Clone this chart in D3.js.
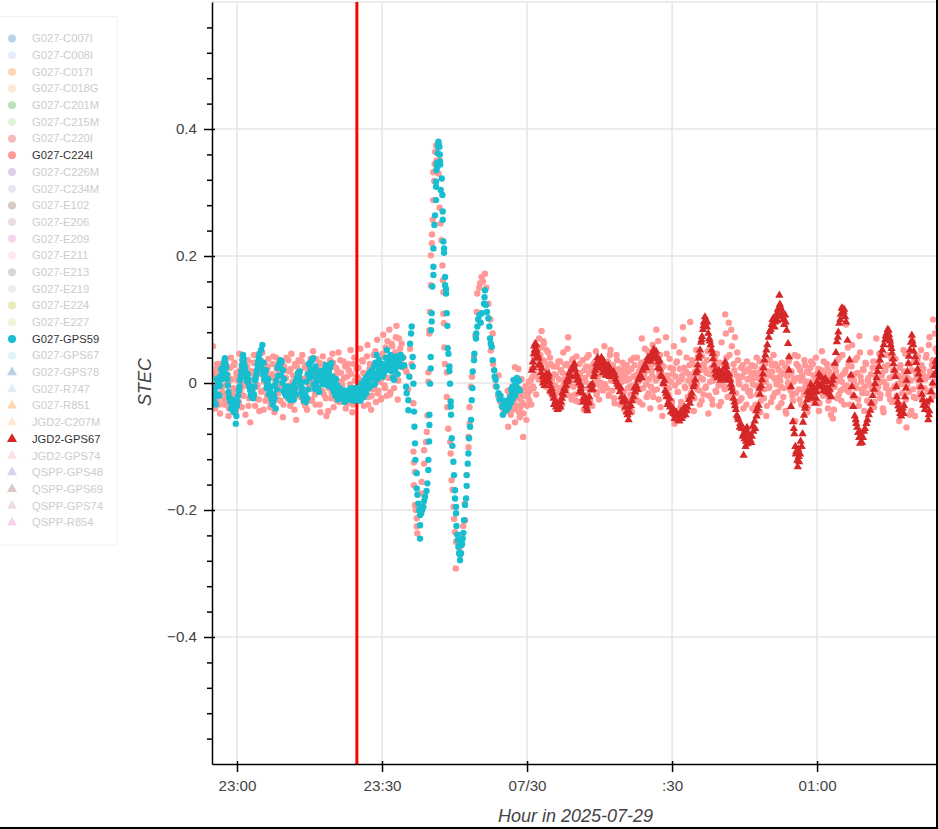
<!DOCTYPE html>
<html><head><meta charset="utf-8">
<script src="https://cdn.jsdelivr.net/npm/d3@7"></script>
<style>
html,body{margin:0;padding:0;background:#fff;overflow:hidden}
text{font-family:"Liberation Sans",Arial,sans-serif}
</style></head><body>
<svg id="chart" width="938" height="829"></svg>
<script>
// STEC values are in thousandths; times in minutes after 23:00
const legendNames = ["G027-C007I","G027-C008I","G027-C017I","G027-C018G","G027-C201M","G027-C215M","G027-C220I","G027-C224I","G027-C226M","G027-C234M","G027-E102","G027-E206","G027-E209","G027-E211","G027-E213","G027-E219","G027-E224","G027-E227","G027-GPS59","G027-GPS67","G027-GPS78","G027-R747","G027-R851","JGD2-C207M","JGD2-GPS67","JGD2-GPS74","QSPP-GPS48","QSPP-GPS69","QSPP-GPS74","QSPP-R854"];
const legendActive = ["G027-C224I","G027-GPS59","JGD2-GPS67"];
const legendTriangles = ["G027-GPS78","G027-R747","G027-R851","JGD2-C207M","JGD2-GPS67","JGD2-GPS74","QSPP-GPS48","QSPP-GPS69","QSPP-GPS74","QSPP-R854"];
const palette = ["#1f77b4","#aec7e8","#ff7f0e","#ffbb78","#2ca02c","#98df8a","#d62728","#ff9896","#9467bd","#c5b0d5","#8c564b","#c49c94","#e377c2","#f7b6d2","#7f7f7f","#c7c7c7","#bcbd22","#dbdb8d","#17becf","#9edae5","#1f77b4","#aec7e8","#ff7f0e","#ffbb78","#d62728","#ff9896","#9467bd","#8c564b","#c49c94","#e377c2"];

const xTickTimes = [0,30,60,90,120];
const xTickLabels = ["23:00","23:30","07/30",":30","01:00"];
const yMajorTicks = [-0.4,-0.2,0,0.2,0.4];
const yMinorTicks = [-0.56,-0.52,-0.48,-0.44,-0.36,-0.32,-0.28,-0.24,-0.16,-0.12,-0.08,-0.04,0.04,0.08,0.12,0.16,0.24,0.28,0.32,0.36,0.44,0.48,0.52,0.56];
const eventTime = 24.8;

// Samples every quarter minute from -5
const cyanQuiet = [-8,-28,-20,6,-18,8,-4,22,14,28,39,24,6,-14,-26,-40,-34,-44,-28,-64,-36,-20,-6,10,28,44,30,18,6,14,-4,-12,-22,-8,-18,4,14,28,40,36,52,60,32,12,20,-2,6,-14,-6,-22,-30,-24,-40,-10,12,30,36,34,20,6,-6,-18,-10,-24,-27,-22,-16,-26,-8,-18,4,14,18,2,-8,-18,-26,-30,-24,-10,8,22,36,39,18,26,4,-8,-14,6,18,-2,14,22,8,-4,16,24,31,10,2,-6,6,-4,-14,-8,-18,-22,-16,-30,-20,-12,-26,-18,-8,-22,-28,-14,-24,-10,-27,-18,-28,-14,-4,-22,-10,-16,2,-8,6,-4,8,10,-2,14,6,18,10,24,14,30,22,40,52,36,28,44,18,8,5,22,30,14,34,39,26];
// Samples every quarter minute from -4.875
const cyanQuiet2 = [-16,-12,-34,-6,2,-20,12,6,20,34,30,14,-4,-22,-30,-26,-38,-46,-42,-52,-30,-12,4,18,36,38,24,10,2,6,-8,-18,-14,-24,-6,8,20,34,46,30,22,14,6,10,-8,-2,-18,-14,-26,-34,-18,-4,4,24,28,26,12,0,-12,-16,-20,-6,-22,-12,-20,-14,-4,-12,2,8,16,10,-4,-14,-22,-28,-18,2,14,30,32,10,14,-2,-10,-4,10,8,18,14,2,4,20,28,18,6,-4,2,-8,-10,-14,-20,-10,-26,-16,-20,-14,-24,-12,-18,-22,-20,-16,-24,-12,-20,-24,-8,-12,-18,-8,-14,-4,0,-6,4,8,0,12,16,8,20,16,26,32,44,30,36,24,12,10,14,26,20,24,36,28,30,38,24,34,42,30,36,28,44];

const cyanActive = [[34.3,40],[34.6,28],[34.97,-6],[35.1,-16],[35.45,-27],[35.45,-43],[35.66,10],[35.8,62],[36,78],[36.14,89],[36.35,41],[36.35,26],[36.49,-1],[36.63,-45],[36.7,-69],[36.83,-95],[36.9,-121],[37.18,-142],[37.18,-166],[37.32,-176],[37.5,-190],[37.7,-200],[37.87,-208],[37.87,-224],[37.87,-245],[38.1,-205],[38.3,-200],[38.56,-195],[38.7,-186],[38.9,-179],[39.2,-170],[39.39,-158],[39.59,-137],[39.59,-121],[39.73,-92],[39.8,-66],[39.8,-50],[39.94,-1],[40.07,23],[40.07,41],[40.14,83],[40.28,97],[40.28,110],[40.42,152],[40.63,170],[40.63,183],[40.63,212],[40.83,249],[40.97,264],[41.18,288],[41.18,309],[41.18,317],[41.25,335],[41.32,346],[41.4,340],[41.52,362],[41.6,372],[41.66,380],[41.72,376],[41.87,372],[41.95,360],[42,349],[42.05,344],[42.35,322],[42.14,304],[42.49,296],[42.56,270],[42.56,257],[42.7,223],[42.83,205],[42.83,212],[43.04,167],[43.04,154],[43.25,141],[43.25,148],[43.39,110],[43.52,90],[43.59,55],[43.73,46],[43.94,26],[43.94,19],[44.07,-1],[44.21,-29],[44.21,-37],[44.28,-50],[44.42,-87],[44.56,-99],[44.76,-124],[44.9,-145],[45.11,-169],[45.11,-182],[45.32,-195],[45.32,-205],[45.4,-225],[45.59,-239],[45.7,-248],[45.8,-258],[45.95,-268],[46.14,-279],[46.14,-270],[46.35,-268],[46.45,-255],[46.56,-253],[46.7,-245],[46.83,-236],[46.97,-216],[47.18,-192],[47.39,-182],[47.52,-162],[47.52,-145],[47.73,-127],[47.87,-111],[48,-87],[48.21,-69],[48.42,-58],[48.56,-27],[48.7,-8],[48.76,18],[49.04,36],[49.11,46],[49.45,70],[49.5,78],[49.73,89],[49.9,100],[50.14,107],[50.63,110],[50.4,95],[51.1,125],[51.3,146],[51.2,135],[51.5,123],[51.7,112],[52,102],[52.2,89],[52.35,70],[52.5,62],[52.7,57],[52.9,36],[53.2,20],[53.3,10],[53.5,5],[53.7,-6],[54.1,-16],[54.3,-26],[54.5,-20],[54.8,-37],[55,-50],[55.2,-28],[55.5,-42],[55.8,-43],[56,-30],[56.2,-38],[56.5,-22],[56.7,-10],[57,-25],[57.2,5],[57.4,-15],[57.6,0],[57.9,8],[58.1,-8],[58.3,4],[58.5,-12],[55.4,-34],[55.9,-36],[56.3,-26],[56.6,-32],[56.9,-14],[57.1,-6],[57.5,-20],[57.8,-8],[58,2]];

// Samples every quarter minute from -5
const pinkQuiet = [58,-12,-40,22,-28,8,-48,30,-6,18,-34,-18,26,-52,4,40,-22,-8,32,-44,12,-30,46,-16,-38,-2,24,-50,10,36,-24,-62,16,-10,44,-36,20,-4,-26,30,-14,48,-42,6,28,-20,38,-8,-32,14,42,-46,0,22,-16,34,-28,10,-54,26,-6,40,-24,18,-36,46,2,-12,30,-58,12,36,-20,-4,44,-30,24,8,-42,16,-10,38,-26,50,-2,-34,20,-14,32,-46,6,42,-18,28,-52,12,-8,36,-24,46,-38,4,24,-12,48,-30,16,-4,34,-20,-40,10,30,-26,52,-8,-34,40,-14,22,-28,6,54,-18,34,-36,14,-6,60,-22,30,-42,-10,44,26,-30,68,-12,40,-26,8,76,-4,56,-20,36,84,-14,62,24,-8,48,90,-26,70,54,30];
// Samples every quarter minute from -4.875
const pinkQuiet2 = [-22,14,-6,30,2,-34,18,-14,8,-26,36,-2,12,-40,24,6,-18,28,-10,16,4,-30,20,-8,38,-20,10,-4,26,-36,0,18,-14,32,8,-24,-6,22,-44,14,34,-12,2,-28,16,24,-6,-38,10,30,-18,6,40,-26,-2,14,-10,28,-34,20,8,-16,36,-4,22,-30,12,-42,2,26,-8,18,-22,34,6,-14,-36,28,10,-2,20,-28,4,14,-18,38,-8,24,-34,8,-12,30,0,-24,16,-44,22,6,-16,32,-4,12,-28,18,-10,36,2,-22,8,26,-14,-32,20,-2,14,-46,30,4,-18,10,24,-8,-26,36,16,-12,-2,42,-34,22,6,-20,28,-6,50,12,-16,34,2,-24,46,18,-8,30,66,8,-18,40,58,22,12,72,34,4,44,26];

const pinkActive = [[34.07,62],[34.4,40],[34.8,22],[35.1,17],[35.4,-10],[35.8,54],[36.1,30],[36.5,-32],[36.5,-108],[36.6,-125],[36.8,-140],[36.6,-161],[36.8,-192],[37,-200],[37.2,-213],[37.2,-226],[37.3,-237],[37.7,-195],[38.2,-174],[38.2,-156],[38.7,-127],[38.7,-106],[39.1,-93],[39.25,-77],[39.4,-51],[39.6,2],[39.6,17],[39.8,78],[39.8,83],[39.9,112],[40.1,154],[40.1,201],[40.3,220],[40.35,234],[40.5,257],[40.6,288],[40.8,318],[40.6,332],[40.9,345],[41,364],[41.2,374],[41.3,350],[41.9,351],[41.7,330],[41.9,276],[42.1,251],[42.3,225],[42.5,185],[42.6,162],[42.7,143],[42.7,109],[42.8,94],[42.9,56],[43,30],[43.4,17],[43.4,-22],[43.5,-38],[43.7,-72],[44.1,-93],[44.2,-111],[44.4,-153],[44.6,-168],[44.8,-195],[44.9,-214],[45.1,-235],[45.25,-292],[45.3,-250],[45.6,-250],[46,-260],[46.5,-240],[46.8,-225],[47.2,-216],[47.1,-190],[47.5,-145],[47.9,-101],[47.9,-85],[48.1,-64],[48.1,-38],[48.4,-6],[48.6,10],[49,41],[49.3,75],[49.6,112],[49.7,141],[50.1,150],[50.3,157],[50.6,167],[50.9,160],[51.3,172],[51.6,150],[52,125],[52.4,100],[52.9,78],[52.5,51],[53,30],[53.5,-5],[54,-20],[54.1,12],[54.5,-30],[55,-40],[55.5,-45],[57.5,25],[58.2,22],[56.1,-69],[59.2,-85],[60.3,-9],[58.6,-38]];

// Samples every quarter minute from 56
const pinkLate = [-12,-38,-25,-44,-8,-30,-62,-18,-42,-22,-54,-10,-34,-48,-20,-5,-36,-15,-28,4,22,-6,40,14,58,30,70,44,82,36,62,18,52,28,-4,40,8,-12,26,-20,12,-28,34,-8,20,-34,48,6,-16,30,72,-2,24,-26,38,10,-18,42,4,-30,16,-10,36,-42,8,26,-20,44,-6,18,-36,30,2,50,-14,24,-4,14,38,-12,58,20,-8,34,-18,52,6,28,-24,12,44,-2,22,-34,10,32,-14,26,4,-28,18,-6,36,-46,10,28,-16,40,2,-30,24,70,-8,14,34,-22,50,6,-40,20,60,-12,30,84,8,-26,44,16,-52,26,-4,72,12,-18,38,2,-30,22,-64,10,34,-14,48,-38,6,88,24,-8,40,-22,14,96,-2,30,-44,18,52,-10,28,-34,8,42,-18,22,-6,36,-48,14,58,-26,4,30,-12,46,20,-36,10,64,-4,26,108,40,-22,95,12,84,-8,30,72,-16,48,4,-28,24,10,-40,18,-6,34,-14,6,-20,28,-2,16,-34,40,8,-12,-46,22,2,-24,30,-52,12,-8,36,-30,18,44,-16,4,26,-38,10,-6,32,-22,14,-44,24,0,38,-12,18,-28,6,-60,30,42,-10,20,-34,8,-18,28,2,-46,16,-4,34,-24,12,-8,40,-14,22,-32,6,50,-20,14,-6,30,-40,18,-12,6,-56,-42,24,2,36,-18,10,-28,44,-8,16,92,-12,28,-34,6,60,-20,14,-4,40,-26,74,10,-10,22,-44,32,-16,4,-30,48,-6,24,-38,12,70,-14,34,-24,2,16,-46,26,-8,44,-18,8,58,-30,20,-6,38,-20,12,-60,28,-2,-34,18,46,-70,8,-14,30,-44,66,-22,-52,14,36,4,-16,52,-28,22,-8,40,-36,10,72,-12,28,100,-20,54,6,88];
// Samples every quarter minute from 56.125
const pinkLate2 = [-30,-16,-50,-6,-40,-24,-2,-36,-14,-46,-26,6,-32,-18,-8,-58,-22,2,-12,-34,10,-8,28,-18,46,6,24,56,16,66,34,-6,20,48,-14,30,4,-22,14,-4,26,-14,6,34,-24,16,-2,28,-10,54,12,-20,4,36,-6,22,-28,14,-2,30,-12,8,-24,20,2,40,-8,14,-30,26,-4,10,34,-18,6,-26,22,0,-10,16,-2,30,12,-20,44,4,-12,24,-32,8,36,-6,16,-24,2,18,-42,10,28,-8,6,-18,22,-4,40,12,-26,2,18,-10,32,-34,8,54,-2,20,-16,26,-6,12,-22,38,4,-10,66,16,-38,28,-2,10,-20,46,6,-8,24,-28,14,58,-4,32,-14,2,22,-30,12,68,-6,18,-42,4,28,-16,36,8,-24,14,-2,42,-12,20,-28,6,30,-8,16,50,-20,2,24,-34,10,38,-14,20,-4,32,-30,8,16,-10,78,26,-6,44,4,58,-16,20,-32,12,36,-2,10,-24,28,-8,18,-34,6,22,-12,14,-40,8,26,-4,-18,16,34,-28,6,24,-10,2,-36,18,-6,12,28,-22,8,30,-2,-14,20,4,-32,16,-8,26,-48,10,34,-6,14,-20,2,44,-16,8,26,-26,4,12,-10,36,-4,18,-38,2,24,-12,30,-30,6,-2,16,-44,10,20,-8,34,-16,4,22,-28,12,-50,-2,28,-6,18,-24,8,40,-12,2,14,-34,20,-4,56,-14,10,26,-22,4,36,-8,16,-36,48,2,-16,20,-6,30,-28,8,-2,14,-10,34,-30,24,6,-6,46,-18,12,-40,2,20,-4,28,-12,-26,38,10,-8,16,-30,-2,-38,24,6,-16,52,12,-26,-4,30,-50,4,20,-10,34,-24,8,42,-6,-20,28,14,-32,6,44,-14,60,18,-24,36,-4,78,12,48];

const redPairs = [[61,20],[61.2,33],[61.4,46],[61.5,58],[61.7,62],[61.8,50],[62,52],[62.2,44],[62.4,39],[62.6,30],[62.8,28],[63,23],[63.2,10],[63.4,5],[63.6,-4],[63.8,2],[64,14],[64.2,8],[64.4,10],[64.6,2],[64.8,-4],[65.1,-9],[65.3,-18],[65.5,-24],[65.8,-32],[66,-38],[66.2,-36],[66.5,-40],[66.7,-36],[67,-30],[67.2,-24],[67.5,-19],[67.8,-12],[68.1,-4],[68.3,2],[68.6,5],[68.9,14],[69.2,20],[69.6,28],[69.9,22],[70.2,14],[70.6,7],[70.8,0],[71.1,-9],[71.4,-16],[71.7,-24],[71.9,-28],[72.2,-36],[72.4,-40],[72.6,-32],[72.9,-22],[73.2,-11],[73.5,-2],[73.8,10],[74.1,20],[74.3,30],[74.6,40],[74.9,36],[75.2,30],[75.5,31],[75.8,22],[76.1,26],[76.4,20],[76.6,24],[76.9,18],[77.2,22],[77.6,14],[78.2,12],[78.5,2],[78.9,-6],[79.2,-14],[79.6,-22],[80,-30],[80.3,-38],[80.6,-46],[81,-58],[81.2,-46],[81.5,-36],[82,-22],[82.3,-14],[82.6,-4],[83,5],[83.4,12],[83.9,20],[84.4,28],[84.8,34],[85.3,40],[85.8,46],[86.2,53],[86.5,46],[86.9,40],[87.2,33],[87.5,22],[87.9,10],[88.2,-1],[88.6,-12],[88.9,-22],[89.25,-30],[89.6,-38],[90,-44],[90.3,-48],[90.6,-50],[91,-54],[91.3,-58],[91.6,-50],[92,-56],[92.4,-43],[92.8,-50],[93.2,-38],[93.7,-32],[94.1,-16],[94.4,-6],[94.8,5],[95,16],[95.3,28],[95.5,39],[95.8,52],[96,64],[96.2,73],[96.4,84],[96.6,96],[96.8,104],[97,98],[97.2,88],[97.5,78],[97.8,66],[98.2,52],[98.5,38],[98.9,20],[99.2,12],[99.5,18],[99.9,10],[100.2,6],[100.5,14],[100.8,24],[101,33],[101.3,18],[101.6,10],[102,5],[102.3,-8],[102.7,-24],[103,-36],[103.4,-51],[103.7,-58],[104.1,-64],[104.4,-72],[104.8,-80],[105.1,-74],[105.4,-82],[105.7,-78],[106,-92],[106.2,-90],[105.2,-100],[104.8,-114],[105.6,-96],[106.5,-84],[106.8,-76],[107.2,-72],[107.5,-52],[107.9,-35],[108.2,-18],[108.6,5],[108.9,24],[109.3,44],[109.7,60],[110.2,81],[110.6,92],[111,102],[111.3,96],[111.6,108],[111.9,116],[112.2,138],[112.3,124],[112.4,120],[112.7,110],[113,100],[113.4,107],[113.7,83],[114,62],[114.2,41],[114.2,20],[114.6,-6],[114.6,-37],[115,-61],[115.3,-80],[115.5,-100],[115.7,-108],[115.9,-122],[116,-132],[116.2,-116],[116.5,-112],[116.8,-100],[117,-80],[117.3,-51],[117.6,-36],[117.9,-27],[118.2,-20],[118.5,-14],[118.9,-6],[119.2,-16],[119.6,-32],[119.9,-14],[120.2,-4],[120.6,10],[120.9,-2],[121.3,-12],[121.7,7],[122,-8],[122.4,-16],[122.7,-19],[123,-2],[123.4,10],[123.7,31],[124.1,65],[124.4,80],[124.6,94],[124.9,108],[125.3,117],[125.6,116],[126,96],[126.3,67],[126.7,36],[127.2,-6],[127.5,-37],[127.8,-52],[128.1,-64],[128.5,-78],[128.9,-95],[129.2,-84],[129.5,-86],[129.9,-72],[130.4,-58],[131,-43],[131.5,-20],[132,-1],[132.5,18],[133,36],[133.5,52],[134.1,68],[134.4,78],[134.8,83],[135,70],[135.2,60],[135.5,47],[135.8,30],[136.2,10],[136.5,-22],[136.8,-36],[137.2,-48],[137.5,-44],[137.9,-48],[138.2,-22],[138.5,4],[138.9,31],[139.2,52],[139.6,75],[139.9,60],[140.3,41],[140.8,22],[141.3,5],[141.7,-18],[142,-35],[142.5,-36],[143,-58],[143.2,-44],[143.4,-27],[143.9,0],[144.4,26],[144.7,18]];
const redPairs2 = [[61.3,24],[61.6,52],[61.9,60],[62.1,40],[62.5,28],[62.9,16],[63.3,0],[63.7,8],[64.1,2],[64.5,14],[64.9,-12],[65.2,-14],[65.6,-34],[65.9,-28],[66.3,-42],[66.6,-34],[66.9,-38],[67.3,-16],[67.7,-8],[68.2,4],[68.7,16],[69,10],[69.4,24],[69.8,30],[70,10],[70.4,4],[70.9,-14],[71.2,-4],[71.6,-30],[72,-22],[72.3,-30],[72.5,-44],[72.8,-30],[73.1,-4],[73.6,-10],[74,14],[74.4,26],[74.7,30],[75,24],[75.4,40],[75.7,16],[76,32],[76.3,12],[76.8,28],[77.1,10],[77.4,16],[77.9,18],[78.3,6],[78.7,-2],[79.4,-8],[79.8,-28],[80.2,-24],[80.5,-30],[80.8,-50],[81.1,-38],[81.7,-28],[82.2,-8],[82.8,-10],[83.2,8],[83.7,8],[84.1,24],[84.6,24],[85,40],[85.5,34],[86,40],[86.4,38],[86.7,50],[87.1,24],[87.4,36],[87.7,12],[88.4,4],[88.8,-16],[89.1,-34],[89.5,-24],[89.8,-46],[90.2,-40],[90.5,-56],[90.9,-46],[91.2,-50],[91.5,-60],[91.9,-44],[92.2,-52],[92.6,-38],[93,-44],[93.5,-26],[94,-22],[94.6,-2],[95.2,20],[95.7,44],[96.1,68],[96.5,90],[96.9,94],[97.3,96],[97.7,70],[98,60],[98.4,46],[98.7,28],[99,14],[99.4,8],[99.7,20],[100,4],[100.3,16],[100.7,8],[101.2,26],[101.5,4],[101.8,14],[102.2,-2],[102.5,-14],[102.9,-30],[103.2,-42],[103.6,-54],[104,-70],[104.3,-66],[104.6,-84],[105,-88],[105.3,-92],[105.5,-70],[105.9,-84],[106.4,-94],[106.7,-68],[107.1,-60],[107.4,-44],[107.7,-40],[108.1,-8],[108.4,-4],[108.8,14],[109.1,36],[109.5,52],[110,72],[110.4,84],[110.8,100],[111.2,88],[111.5,100],[111.8,98],[112,106],[112.1,116],[112.6,116],[112.9,104],[113.2,92],[113.5,96],[115.2,-72],[115.6,-112],[116.1,-104],[116.3,-124],[116.6,-92],[117.1,-62],[117.5,-40],[118,-14],[118.4,-24],[118.7,-2],[119,-22],[119.4,-8],[119.8,-24],[120,2],[120.4,14],[120.7,-6],[121,8],[121.2,-4],[121.5,4],[121.9,-14],[122.2,2],[122.6,-10],[122.9,-22],[123.2,4],[123.9,48],[124.3,72],[124.8,100],[125.1,118],[125.5,112],[125.8,104],[127,12],[127.6,-20],[128,-58],[128.3,-70],[128.7,-86],[129,-78],[129.3,-94],[129.7,-76],[130.2,-64],[130.7,-50],[131.2,-32],[131.8,-10],[132.3,8],[132.8,26],[133.3,44],[133.8,60],[134.2,74],[134.6,84],[134.9,76],[135.1,66],[135.4,54],[135.7,38],[136,20],[136.4,-6],[136.7,-30],[137,-42],[137.4,-52],[137.7,-40],[138,-36],[138.4,-8],[138.7,18],[139,42],[139.4,64],[139.7,66],[140,50],[140.5,32],[141,14],[141.5,-6],[141.9,-26],[142.3,-42],[142.7,-30],[143.1,-50],[143.6,-14],[144.1,12],[144.5,34]];

const W = 938, H = 829;
const plot = {left:212, right:936, top:2, bottom:764};
const svg = d3.select("#chart");
const x = d3.scaleLinear().domain([-5.17,144.6]).range([plot.left,plot.right]);
const y = d3.scaleLinear().domain([-0.6,0.6]).range([plot.bottom,plot.top]);
const color = d3.scaleOrdinal(legendNames,palette);
const fontStack = '"Liberation Sans",Arial,sans-serif';

svg.append("rect").attr("x",W-2).attr("y",0).attr("width",2).attr("height",H).attr("fill","#000");
svg.append("rect").attr("x",0).attr("y",H-2).attr("width",W).attr("height",2).attr("fill","#000");

const grid = svg.append("g").attr("stroke","#e6e6e6").attr("stroke-width",1.5);
grid.selectAll("line.h").data(yMajorTicks).join("line").attr("class","h")
  .attr("x1",plot.left).attr("x2",plot.right).attr("y1",d=>y(d)).attr("y2",d=>y(d));
grid.selectAll("line.v").data(xTickTimes).join("line").attr("class","v")
  .attr("y1",plot.top).attr("y2",plot.bottom).attr("x1",d=>x(d)).attr("x2",d=>x(d));
grid.append("line").attr("x1",plot.left).attr("x2",plot.right).attr("y1",plot.top).attr("y2",plot.top);

svg.append("defs").append("clipPath").attr("id","clip").append("rect")
  .attr("x",plot.left).attr("y",plot.top).attr("width",plot.right-plot.left).attr("height",plot.bottom-plot.top);
const marks = svg.append("g").attr("clip-path","url(#clip)");

const pinkData = [
  ...pinkQuiet.map((v,i)=>[-5+i*0.25,v]),
  ...pinkQuiet2.map((v,i)=>[-4.875+i*0.25,v]),
  ...pinkActive,
  ...pinkLate.map((v,i)=>[56+i*0.25,v]),
  ...pinkLate2.map((v,i)=>[56.125+i*0.25,v])
];
const cyanData = [
  ...cyanQuiet.map((v,i)=>[-5+i*0.25,v]),
  ...cyanQuiet2.map((v,i)=>[-4.875+i*0.25,v]),
  ...cyanActive
];
const redData = [...redPairs, ...redPairs2];

marks.append("g").selectAll("circle").data(pinkData).join("circle")
  .attr("cx",d=>x(d[0])).attr("cy",d=>y(d[1]/1000)).attr("r",3.2).attr("fill",color("G027-C224I"));

marks.append("line").attr("x1",x(eventTime)).attr("x2",x(eventTime))
  .attr("y1",plot.top-2).attr("y2",plot.bottom).attr("stroke","#ff0000").attr("stroke-width",3);

marks.append("g").selectAll("circle").data(cyanData).join("circle")
  .attr("cx",d=>x(d[0])).attr("cy",d=>y(d[1]/1000)).attr("r",3.2).attr("fill",color("G027-GPS59"));

const tri = d3.symbol().type(d3.symbolTriangle).size(30);
marks.append("g").selectAll("path").data(redData).join("path")
  .attr("d",tri).attr("transform",d=>`translate(${x(d[0])},${y(d[1]/1000)})`).attr("fill",color("JGD2-GPS67"));

const xAxis = svg.append("g").attr("transform",`translate(0,${plot.bottom})`)
  .call(d3.axisBottom(x).tickValues(xTickTimes).tickFormat((d,i)=>xTickLabels[i]).tickSize(8).tickPadding(8).tickSizeOuter(0));
xAxis.select(".domain").attr("stroke","#000").attr("stroke-width",1.5);
xAxis.selectAll(".tick line").attr("stroke","#000").attr("stroke-width",1.5).attr("y1",-3);
xAxis.selectAll("text").attr("font-size",15.2).attr("fill","#444").attr("font-family",fontStack);

const yFmt = d => d===0 ? "0" : d3.format(".1f")(d).replace("-","\u2212");
const yAxis = svg.append("g").attr("transform",`translate(${plot.left},0)`)
  .call(d3.axisLeft(y).tickValues(yMajorTicks).tickFormat(yFmt).tickSize(8).tickPadding(7).tickSizeOuter(0));
yAxis.select(".domain").attr("stroke","#000").attr("stroke-width",1.5);
yAxis.selectAll(".tick line").attr("stroke","#000").attr("stroke-width",1.5).attr("x2",-8).attr("x1",3);
yAxis.selectAll("text").attr("font-size",15.2).attr("fill","#444").attr("font-family",fontStack);
const yMinor = svg.append("g").attr("transform",`translate(${plot.left},0)`)
  .call(d3.axisLeft(y).tickValues(yMinorTicks).tickFormat("").tickSize(5).tickSizeOuter(0));
yMinor.select(".domain").remove();
yMinor.selectAll(".tick line").attr("stroke","#000").attr("stroke-width",1.5);

svg.append("text").attr("transform","translate(151,382) rotate(-90)").attr("text-anchor","middle")
  .attr("font-size",18).attr("font-style","italic").attr("fill","#444").text("STEC");
svg.append("text").attr("x",575.5).attr("y",822).attr("text-anchor","middle")
  .attr("font-size",18).attr("font-style","italic").attr("fill","#444").text("Hour in 2025-07-29");

const rowY = d3.scalePoint().domain(legendNames).range([38.5,522.5]);
svg.append("rect").attr("x",-2).attr("y",16.5).attr("width",119).attr("height",528.5)
  .attr("fill","#fff").attr("fill-opacity",0.8).attr("stroke","#f0f0f0").attr("stroke-width",1);
const rows = svg.append("g").selectAll("g").data(legendNames).join("g")
  .attr("transform",d=>`translate(0,${rowY(d)})`);
const legendTri = d3.symbol().type(d3.symbolTriangle).size(44);
const legendCirc = d3.symbol().type(d3.symbolCircle).size(50);
rows.append("path").attr("transform","translate(12,0)")
  .attr("d",d=>legendTriangles.includes(d)?legendTri():legendCirc())
  .attr("fill",d=>color(d)).attr("fill-opacity",d=>legendActive.includes(d)?1:0.32);
rows.append("text").attr("x",32).attr("y",3.8).attr("font-size",11.2)
  .attr("fill",d=>legendActive.includes(d)?"#333":"#ccc").text(d=>d);
</script>
</body></html>
